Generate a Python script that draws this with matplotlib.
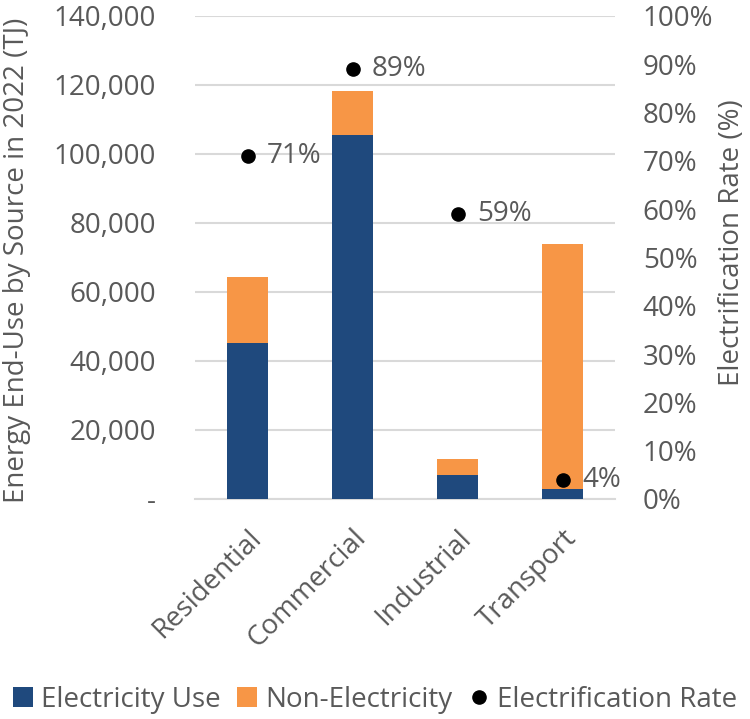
import matplotlib
matplotlib.use("Agg")
import matplotlib.pyplot as plt
from matplotlib.lines import Line2D
from matplotlib.patches import Patch
from matplotlib.ticker import FuncFormatter, MultipleLocator

categories = ["Residential", "Commercial", "Industrial", "Transport"]
electricity_use = [45300, 105500, 6900, 2900]
non_electricity = [18900, 12800, 4800, 71100]
electrification_rate = [0.71, 0.89, 0.59, 0.04]
rate_labels = ["71%", "89%", "59%", "4%"]

BLUE = "#1F497D"
ORANGE = "#F79646"
TEXT = "#595959"
GRID = "#D9D9D9"

plt.rcParams["font.family"] = ["Open Sans", "DejaVu Sans"]
FS = 20

fig = plt.figure(figsize=(7.5, 7.19), dpi=100)
ax = fig.add_axes([0.26, 0.306, 0.56, 0.672])
ax2 = ax.twinx()

x = list(range(len(categories)))
width = 0.39
ax.bar(x, electricity_use, width, color=BLUE, zorder=3)
ax.bar(x, non_electricity, width, bottom=electricity_use, color=ORANGE, zorder=3)

ax.set_xlim(-0.5, 3.5)
ax.set_ylim(0, 140000)
ax.yaxis.set_major_locator(MultipleLocator(20000))
ax.yaxis.set_major_formatter(FuncFormatter(lambda v, p: "-" if v == 0 else f"{int(v):,}"))
ax.grid(axis="y", color=GRID, linewidth=1.5, zorder=0)
ax.set_axisbelow(True)

for s in ax.spines.values():
    s.set_visible(False)
for s in ax2.spines.values():
    s.set_visible(False)
ax.spines["bottom"].set_visible(True)
ax.spines["bottom"].set_color(GRID)
ax.spines["bottom"].set_linewidth(1.5)

ax.tick_params(axis="y", length=0, labelsize=FS, labelcolor=TEXT, pad=28)
ax.tick_params(axis="x", length=0, labelsize=FS, labelcolor=TEXT, pad=18)
ax.set_xticks(x)
ax.set_xticklabels(categories, rotation=45, ha="right", rotation_mode="anchor")

ax2.set_ylim(0, 1)
ax2.yaxis.set_major_locator(MultipleLocator(0.1))
ax2.yaxis.set_major_formatter(FuncFormatter(lambda v, p: f"{v*100:.0f}%"))
ax2.tick_params(axis="y", length=0, labelsize=FS, labelcolor=TEXT, pad=20)

ax2.plot(x, electrification_rate, linestyle="none", marker="o", markersize=9.5,
         color="black", zorder=5)
for xi, r, lab in zip(x, electrification_rate, rate_labels):
    ax2.annotate(lab, (xi, r), xytext=(14, 0), textcoords="offset points",
                 ha="left", va="center", fontsize=FS, color=TEXT)

ax.set_ylabel("Energy End-Use by Source in 2022 (TJ)", fontsize=FS, color=TEXT)
ax.yaxis.set_label_coords(-0.39, 0.495)
ax2.set_ylabel("Electrification Rate (%)", fontsize=FS, color=TEXT)
ax2.yaxis.set_label_coords(1.245, 0.53)

handles = [
    Patch(facecolor=BLUE, label="Electricity Use"),
    Patch(facecolor=ORANGE, label="Non-Electricity"),
    Line2D([], [], linestyle="none", marker="o", markersize=9.5, color="black",
           label="Electrification Rate"),
]
fig.legend(handles=handles, loc="center", bbox_to_anchor=(0.5, 0.027), ncol=3,
           frameon=False, fontsize=FS, labelcolor=TEXT, handlelength=0.7,
           handleheight=0.7, handletextpad=0.3, columnspacing=0.6)

fig.savefig("out.png", dpi=100)
